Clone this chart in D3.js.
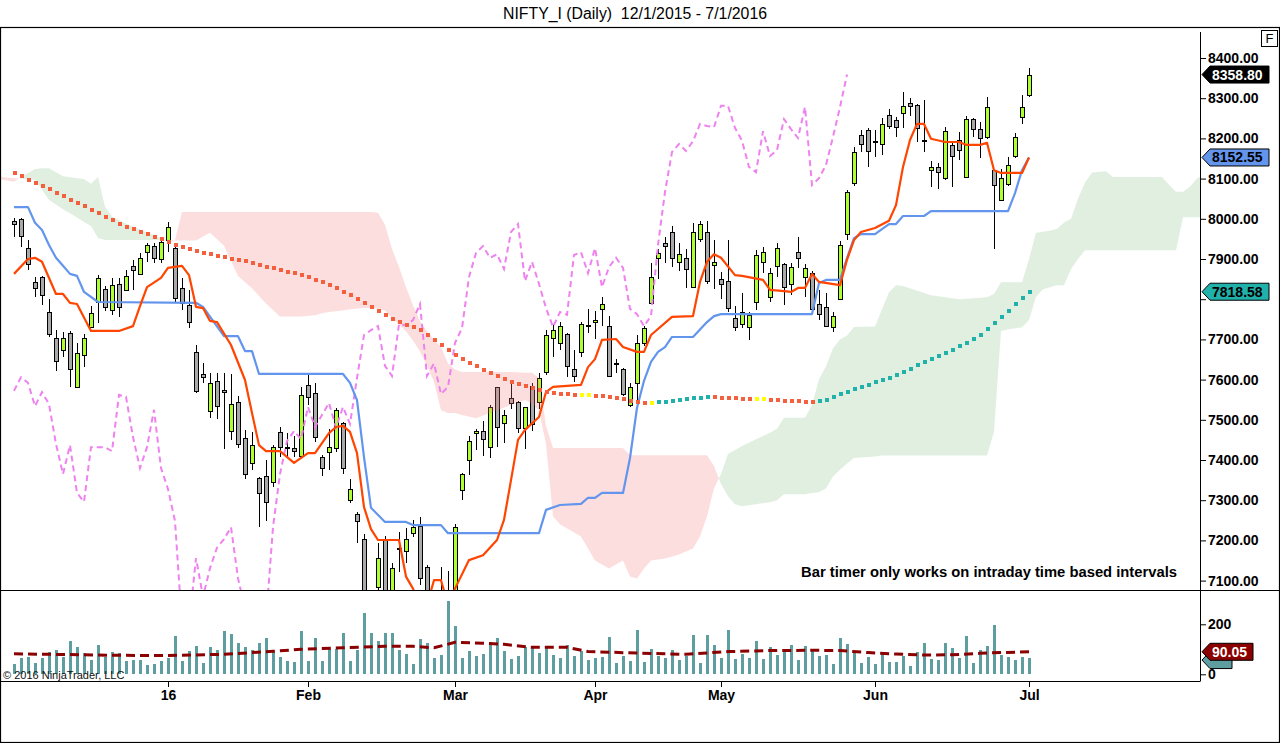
<!DOCTYPE html>
<html>
<head>
<meta charset="utf-8">
<script src="https://d3js.org/d3.v7.min.js"></script>
<title>NIFTY_I (Daily)</title>
<style>
  body { margin: 0; background: #fff; }
  svg { display: block; font-family: "Liberation Sans", Arial, sans-serif; }
  .ax text { font-size: 14px; font-weight: bold; fill: #000; }
  .ax line { stroke: #000; }
</style>
</head>
<body>
<script>
// ---- data (bar index 0 = 1 Dec 2015, 145 = 1 Jul 2016) ----
const opens = [7995,7999,7927,7843,7855,7768,7703,7674,7716,7582, 7661,7731,7793,7825,7773,7838,7823,7883,7863,7917,
  7932,7900,7947,7927,7828,7786,7669,7614,7522,7597, 7574,7472,7544,7455,7393,7355,7360,7345,7470,7433,
  7430,7410,7587,7567,7408,7420,7430,7492,7300,7265, 7203,7000,7084,7201,7050,7180,7174,7218,7236,7134,
  7040,7000,7040,7020,7325,7400,7467,7472,7432,7582, 7492,7554,7544,7480,7584,7544,7619,7703,7691,7713,
  7626,7669,7733,7743,7776,7733,7642,7626,7537,7592, 7691,7791,7903,7940,7967,7893,7903,7830,7950,7967,
  7885,7850,7845,7753,7738,7731,7793,7893,7805,7883, 7888,7838,7917,7855,7865,7788,7781,7731,7801,7962,
  8089,8208,8221,8194,8186,8258,8246,8263,8288,8283, 8196,8121,8129,8101,8184,8196,8104,8248,8223,8203,
  8121,8047,8087,8156,8253,8308]
const highs = [8002,8002,7947,7855,7858,7800,7723,7718,7720,7691, 7713,7783,7860,7833,7853,7853,7873,7898,7915,7940,
  7940,7947,7992,7935,7853,7823,7686,7641,7617,7617, 7617,7614,7559,7475,7470,7358,7400,7437,7482,7467,
  7460,7582,7612,7592,7412,7477,7530,7495,7353,7270, 7215,7050,7194,7210,7145,7221,7230,7250,7258,7140,
  7060,7135,7125,7240,7368,7460,7477,7497,7537,7582, 7524,7592,7547,7532,7592,7617,7723,7736,7743,7716,
  7674,7743,7776,7771,7806,7758,7651,7629,7592,7711, 7733,7890,7925,7955,7982,7940,7925,7990,7995,7995,
  7947,7868,7947,7783,7816,7768,7923,7930,7878,7940, 7890,7890,7955,7888,7870,7823,7816,7768,7945,8072,
  8179,8221,8226,8221,8251,8273,8253,8315,8300,8286, 8296,8144,8139,8228,8191,8216,8256,8251,8241,8303,
  8121,8124,8154,8214,8308,8375]
const lows = [7955,7931,7873,7805,7786,7706,7621,7656,7582,7580, 7631,7729,7741,7771,7761,7756,7820,7823,7860,7893,
  7890,7890,7917,7790,7773,7728,7567,7592,7504,7502, 7427,7450,7430,7353,7375,7233,7248,7333,7407,7407,
  7407,7405,7537,7445,7360,7375,7420,7365,7293,7194, 6960,6940,7040,7030,7030,7121,7145,7208,7090,7000,
  6950,6960,6828,7010,7300,7362,7425,7410,7405,7432, 7443,7527,7467,7427,7472,7527,7612,7656,7674,7606,
  7594,7656,7716,7701,7733,7606,7617,7559,7532,7532, 7683,7788,7850,7890,7880,7870,7828,7828,7942,7838,
  7825,7800,7768,7721,7728,7699,7773,7865,7793,7855, 7786,7810,7878,7806,7768,7748,7731,7718,7798,7947,
  8082,8166,8129,8154,8159,8223,8203,8226,8256,8191, 8166,8079,8074,8097,8079,8146,8102,8203,8151,8198,
  7925,8044,8082,8151,8236,8303]
const closes = [7987,7956,7887,7828,7810,7713,7646,7703,7626,7666, 7703,7766,7853,7781,7835,7781,7858,7873,7903,7935,
  7903,7942,7980,7803,7790,7743,7572,7606,7592,7534, 7569,7539,7440,7365,7437,7318,7296,7432,7432,7432,
  7422,7562,7557,7457,7380,7432,7525,7380,7328,7248, 6990,6990,7156,7060,7131,7182,7203,7233,7106,7030,
  6990,7045,7000,7233,7365,7447,7472,7452,7532,7482, 7512,7542,7480,7532,7490,7604,7711,7723,7733,7634,
  7609,7738,7735,7748,7788,7609,7640,7564,7582,7691, 7728,7855,7915,7932,7903,7912,7875,7967,7987,7845,
  7893,7838,7778,7731,7768,7761,7910,7917,7865,7927, 7830,7880,7903,7878,7776,7763,7733,7758,7935,8067,
  8166,8186,8169,8193,8236,8231,8228,8281,8281,8226, 8194,8129,8116,8218,8156,8171,8248,8223,8201,8278,
  8084,8101,8134,8204,8278,8358.8]
const volumes = [41,67,71,47,67,91,97,71,133,111, 84,57,117,71,88,87,55,57,57,37,
  41,53,67,153,53,93,113,47,109,97, 173,163,127,109,97,127,145,91,71,53,
  51,173,53,145,53,100,100,165,53,97, 245,165,133,165,165,97,81,41,141,127,
  65,77,293,193,65,93,73,81,129,145, 95,63,75,108,108,87,108,79,67,119,
  75,95,59,67,71,151,47,75,55,179, 51,103,75,67,99,59,75,159,47,159,
  119,67,179,63,83,67,135,63,110,78, 101,118,58,113,93,73,77,41,144,121,
  84,47,69,41,89,49,49,73,33,89, 125,61,57,125,104,65,153,47,97,113,
  197,77,69,57,69,65]
// slow moving average drawn as square dots
const slowMA = [8114,8106,8097,8090,8082,8074,8065,8056,8047,8039, 8031,8022,8014,8005,7997,7988,7980,7974,7968,7961,
  7955,7949,7943,7936,7930,7925,7921,7916,7912,7908, 7905,7901,7898,7894,7890,7886,7881,7877,7873,7868,
  7864,7859,7855,7848,7842,7835,7828,7819,7810,7800, 7791,7781,7771,7761,7751,7744,7737,7730,7723,7711,
  7698,7686,7674,7662,7651,7642,7633,7624,7616,7608, 7601,7595,7589,7584,7579,7574,7569,7567,7565,7563,
  7562,7562,7562,7560,7558,7556,7554,7551,7548,7545, 7543,7543,7544,7545,7547,7549,7551,7553,7555,7557,
  7556,7555,7554,7553,7552,7551,7551,7551,7550,7549, 7548,7547,7546,7545,7544,7546,7550,7556,7563,7570,
  7577,7582,7587,7593,7599,7605,7611,7619,7627,7636, 7644,7651,7659,7666,7674,7683,7692,7702,7711,7725,
  7740,7755,7771,7787,7803,7818.58]
// Tenkan / Kijun vertices [bar, value]
const tenkan = [[0,7863],[2,7900],[3,7903],[4,7893],[6,7813],[7,7813],[8,7791],[9,7788],[11,7721],[15,7721],[17,7733],
  [18,7783],[19,7830],[21,7853],[22,7878],[24,7883],[25,7860],[26,7781],[27,7778],[28,7746],[29,7743],[31,7686],
  [33,7599],[34,7517],[35,7437],[36,7422],[38,7422],[40,7393],[42,7417],[43,7417],[45,7467],[46,7482],[47,7485],
  [48,7470],[49,7417],[50,7283],[51,7228],[52,7201],[55,7201],[56,7110],[57,7080],[58,7040],[59,7040],[60,7101],
  [61,7101],[62,7040],[63,7080],[65,7151],[67,7163],[69,7201],[70,7251],[71,7350],[72,7450],[73,7475],[75,7507],
  [76,7569],[77,7582],[81,7587],[82,7631],[83,7651],[84,7699],[86,7701],[87,7681],[89,7669],[90,7669],[91,7711],
  [94,7756],[97,7758],[98,7843],[99,7893],[100,7912],[101,7903],[103,7860],[104,7858],[107,7848],[108,7823],
  [110,7820],[111,7818],[112,7828],[113,7828],[114,7863],[115,7843],[118,7835],[119,7898],[120,7947],[121,7967],
  [123,7977],[125,7995],[126,8034],[127,8129],[128,8196],[129,8236],[130,8236],[131,8199],[133,8191],[135,8191],
  [136,8184],[138,8184],[139,8189],[140,8121],[141,8114],[144,8114],[145,8152.55]]
const kijun = [[0,8029],[2,8029],[3,7990],[4,7972],[5,7935],[6,7903],[7,7883],[8,7863],[9,7858],[10,7818],[12,7793],
  [26,7791],[27,7781],[30,7708],[32,7708],[33,7671],[34,7671],[35,7614],[47,7614],[48,7592],[49,7549],[50,7407],
  [51,7281],[53,7246],[56,7246],[57,7238],[61,7238],[62,7218],[75,7218],[76,7276],[78,7288],[81,7291],[82,7306],
  [83,7306],[84,7318],[87,7318],[88,7405],[89,7530],[90,7597],[91,7644],[92,7669],[93,7681],[94,7706],[97,7706],
  [99,7743],[100,7758],[101,7763],[114,7763],[115,7840],[116,7848],[118,7848],[119,7902],[120,7952],[121,7962],
  [123,7962],[125,7987],[126,7987],[127,8007],[130,8007],[131,8019],[142,8019],[143,8064],[144,8121],[145,8152.55]]
// cloud: bar position, Senkou span A, Senkou span B
const cloudBars = [-2,0,1,2,3,4,5,7,9,10,11,12,13,14,17,21,22,23,24,26,28,30,32,34,36,38,41,43,44,45,47,48,50,51,52,53,54,
  55,56,57,58,59,60,61,62,63,64,66,68,71,73,74,75,76,77,78,81,83,85,87,88,89,90,91,93,95,97,98,99,100,101,102,103,104,
  108,109,110,113,114,115,116,117,118,119,120,123,124,125,126,127,131,135,139,140,141,142,144,145,146,147,148,149,150,
  151,152,153,154,156,157,164,165,166,167,168,169,170]
const spanA = [8098,8092,8104,8114,8124,8126,8126,8106,8101,8099,8087,8104,8030,8005,7980,7952,7946,7946,7946,7946,7965,
  7933,7858,7827,7789,7757,7757,7760,7765,7768,7772,7775,7778,7778,7776,7772,7753,7737,7720,7697,7670,7635,7594,7524,
  7517,7517,7512,7504,7517,7537,7549,7540,7524,7440,7260,7240,7210,7150,7130,7150,7110,7105,7130,7150,7155,7165,7180,
  7210,7260,7330,7365,7415,7425,7435,7468,7478,7505,7505,7537,7600,7633,7678,7700,7710,7731,7732,7775,7817,7835,7833,
  7810,7800,7805,7813,7842,7842,7842,7900,7965,7968,7970,7975,7991,8000,8050,8090,8115,8118,8104,8104,8085,8067,8067,
  8080,8100,8110]
const spanB = [8104,8101,8100,8098,8097,8072,8047,8024,8003,7992,7982,7952,7947,7947,7947,7947,7947,7947,8017,8017,8017,
  8017,8017,8017,8017,8017,8017,8017,8017,8017,8017,8017,8017,8017,8015,7985,7925,7880,7830,7785,7745,7720,7700,7681,
  7640,7625,7619,7619,7619,7619,7617,7617,7604,7485,7430,7430,7430,7430,7430,7430,7412,7412,7412,7412,7412,7412,7412,
  7412,7412,7385,7340,7310,7290,7285,7295,7300,7315,7315,7318,7320,7330,7359,7376,7391,7405,7409,7411,7411,7411,7411,
  7411,7411,7411,7470,7720,7725,7730,7748,7806,7825,7830,7835,7835,7875,7900,7922,7922,7922,7922,7922,7922,7922,8004,
  8004,8004,8004]
// volume moving average vertices [bar, value]
const volMA = [[0,82],[15,76],[22,75],[30,80],[37,92],[41,100],[47,106],[53,112],[57,112],[60,106],[63,128],[67,124],
  [70,120],[74,108],[79,108],[82,91],[89,85],[96,80],[102,91],[108,95],[114,96],[118,95],[122,87],[126,81],[130,77],
  [134,78],[138,84],[141,87],[145,90.05]]
const priceTicks = [7100,7200,7300,7400,7500,7600,7700,7800,7900,8000,8100,8200,8300,8400]
const volTicks = [0, 200]
const dateTickBars = [22, 42, 63, 83, 101, 123, 145]
const dateTickLabels = ['16', 'Feb', 'Mar', 'Apr', 'May', 'Jun', 'Jul']

/* canvas setup */
const width = 1280, height = 743
const svg = d3.select('body').append('svg').attr('width', width).attr('height', height)

const x = d3.scaleLinear().domain([0, 145]).range([14, 1029])
const y = d3.scaleLinear().domain([7100, 8400]).range([580.6, 58])
const yv = d3.scaleLinear().domain([0, 200]).range([674.3, 624.3])
const snap = v => Math.round(v) + 0.5

svg.append('text')
  .attr('x', 635).attr('y', 19).attr('text-anchor', 'middle')
  .attr('font-size', 16).attr('textLength', 264).attr('lengthAdjust', 'spacingAndGlyphs')
  .style('white-space', 'pre')
  .text('NIFTY_I (Daily)  12/1/2015 - 7/1/2016')

svg.append('rect').attr('x', 0.5).attr('y', 27.5).attr('width', 1279).attr('height', 715)
  .attr('fill', 'none').attr('stroke', '#000').attr('stroke-width', 1.2)

const defs = svg.append('defs')
defs.append('clipPath').attr('id', 'pc').append('rect').attr('x', 1).attr('y', 28).attr('width', 1199).attr('height', 562)
defs.append('clipPath').attr('id', 'vc').append('rect').attr('x', 1).attr('y', 591).attr('width', 1199).attr('height', 90)

const price = svg.append('g').attr('clip-path', 'url(#pc)')

/* candles */
const idx = d3.range(opens.length)
const candles = price.append('g')
candles.selectAll('line').data(idx).join('line')
  .attr('x1', i => x(i) + 0.5).attr('x2', i => x(i) + 0.5)
  .attr('y1', i => Math.round(y(highs[i]))).attr('y2', i => Math.round(y(lows[i])))
  .attr('stroke', '#000').attr('stroke-width', 1)
candles.selectAll('rect').data(idx).join('rect')
  .attr('x', i => x(i) - 1.5).attr('width', 4)
  .attr('y', i => snap(y(Math.max(opens[i], closes[i]))))
  .attr('height', i => Math.max(1, Math.round(Math.abs(y(opens[i]) - y(closes[i])))))
  .attr('fill', i => closes[i] >= opens[i] ? '#adff2f' : '#a9a9a9')
  .attr('stroke', '#000').attr('stroke-width', 1)

/* ichimoku cloud, drawn over the candles with transparency */
const pt = (b, v) => x(b).toFixed(2) + ',' + y(v).toFixed(2)
let pinkD = '', greenD = ''
for (let k = 0; k < cloudBars.length - 1; k++) {
  const b0 = cloudBars[k], b1 = cloudBars[k + 1]
  const a0 = spanA[k], a1 = spanA[k + 1], s0 = spanB[k], s1 = spanB[k + 1]
  const d0 = a0 - s0, d1 = a1 - s1
  if (d0 * d1 >= 0) {
    const seg = 'M' + [pt(b0, a0), pt(b1, a1), pt(b1, s1), pt(b0, s0)].join('L') + 'Z'
    if (d0 + d1 >= 0) greenD += seg; else pinkD += seg
  } else {
    const t = d0 / (d0 - d1)
    const bc = b0 + t * (b1 - b0), vc = a0 + t * (a1 - a0)
    const s1st = 'M' + [pt(b0, a0), pt(bc, vc), pt(b0, s0)].join('L') + 'Z'
    const s2nd = 'M' + [pt(bc, vc), pt(b1, a1), pt(b1, s1)].join('L') + 'Z'
    if (d0 > 0) { greenD += s1st; pinkD += s2nd } else { pinkD += s1st; greenD += s2nd }
  }
}
price.append('path').attr('d', pinkD).attr('fill', 'rgb(245,125,125)').attr('opacity', 0.25)
price.append('path').attr('d', greenD).attr('fill', 'rgb(135,190,135)').attr('opacity', 0.25)

/* lagging span: closes shifted back 26 bars */
const lineXY = d3.line().x(d => x(d[0])).y(d => y(d[1]))
const chikou = closes.map((c, i) => [i - 26, c]).filter(d => d[0] >= 0)
price.append('path').attr('d', lineXY(chikou)).attr('fill', 'none')
  .attr('stroke', '#ee82ee').attr('stroke-width', 2).attr('stroke-dasharray', '6,4')

price.append('path').attr('d', lineXY(kijun)).attr('fill', 'none')
  .attr('stroke', '#6495ed').attr('stroke-width', 2.2).attr('stroke-linejoin', 'round')
price.append('path').attr('d', lineXY(tenkan)).attr('fill', 'none')
  .attr('stroke', '#ff4500').attr('stroke-width', 2.2).attr('stroke-linejoin', 'round')

/* slow average as coloured square dots */
price.append('g').selectAll('rect').data(slowMA).join('rect')
  .attr('x', (d, i) => x(i) - 1).attr('y', d => Math.round(y(d)) - 2)
  .attr('width', 4).attr('height', 4)
  .attr('fill', (d, i) => {
    const diff = i === 0 ? -1 : d - slowMA[i - 1]
    return diff > 0 ? '#20b2aa' : diff < 0 ? '#f4603e' : '#ffff00'
  })

/* volume panel */
const vol = svg.append('g').attr('clip-path', 'url(#vc)')
vol.selectAll('rect').data(volumes).join('rect')
  .attr('x', (d, i) => x(i) - 1).attr('width', 3)
  .attr('y', d => Math.round(yv(d))).attr('height', d => Math.round(yv(0)) - Math.round(yv(d)))
  .attr('fill', '#5f9ea0')
vol.append('path').attr('d', d3.line().x(d => x(d[0])).y(d => yv(d[1]))(volMA))
  .attr('fill', 'none').attr('stroke', '#8b0000').attr('stroke-width', 3).attr('stroke-dasharray', '9,5')

svg.append('text').attr('x', 3).attr('y', 679).attr('font-size', 11).attr('fill', '#111')
  .text('\u00a9 2016 NinjaTrader, LLC')

/* panel borders */
svg.append('line').attr('x1', 0).attr('x2', 1280).attr('y1', 590.5).attr('y2', 590.5).attr('stroke', '#000').attr('stroke-width', 1.2)
svg.append('line').attr('x1', 0).attr('x2', 1200).attr('y1', 681.5).attr('y2', 681.5).attr('stroke', '#000')
svg.append('line').attr('x1', 1200.5).attr('x2', 1200.5).attr('y1', 32).attr('y2', 681.5).attr('stroke', '#000')

/* axes */
const lastMA = slowMA[slowMA.length - 1]
const pAxis = svg.append('g').attr('class', 'ax').attr('transform', 'translate(1200,0)')
  .call(d3.axisRight(y).tickValues(priceTicks).tickFormat(d3.format('.2f')).tickSize(6).tickPadding(2))
pAxis.select('.domain').remove()
// the 7800 label sits under the last-value flag of the slow average
pAxis.selectAll('.tick').filter(d => Math.abs(y(d) - y(lastMA)) < 14).select('text').remove()
const vAxis = svg.append('g').attr('class', 'ax').attr('transform', 'translate(1200,0)')
  .call(d3.axisRight(yv).tickValues(volTicks).tickFormat(d3.format('d')).tickSize(6).tickPadding(2))
vAxis.select('.domain').remove()
const tAxis = svg.append('g').attr('class', 'ax').attr('transform', 'translate(0,681)')
  .call(d3.axisBottom(x).tickValues(dateTickBars).tickFormat((d, i) => dateTickLabels[i]).tickSize(6).tickPadding(3))
tAxis.select('.domain').remove()

/* last-value flags */
const flag = (cy, txt, bg, fg, right) => {
  const g = svg.append('g')
  g.append('path')
    .attr('d', `M1202,${cy}L1210,${cy - 8.5}L${right},${cy - 8.5}L${right},${cy + 8.5}L1210,${cy + 8.5}Z`)
    .attr('fill', bg).attr('stroke', '#000').attr('stroke-width', 1)
  if (txt) g.append('text').attr('x', 1212).attr('y', cy + 5).attr('font-size', 14).attr('font-weight', 'bold')
    .attr('fill', fg).text(txt)
}
flag(y(closes[closes.length - 1]), d3.format('.2f')(closes[closes.length - 1]), '#000', '#fff', 1269)
flag(y(kijun[kijun.length - 1][1]), d3.format('.2f')(kijun[kijun.length - 1][1]), '#6495ed', '#000', 1269)
flag(y(lastMA), d3.format('.2f')(lastMA), '#20b2aa', '#000', 1269)
flag(yv(volumes[volumes.length - 1]) + 2, '', '#5f9ea0', '#000', 1232)
flag(yv(volMA[volMA.length - 1][1]), d3.format('.2f')(volMA[volMA.length - 1][1]), '#8b0000', '#fff', 1253)

/* F button and notice */
svg.append('rect').attr('x', 1261.5).attr('y', 30.5).attr('width', 16).attr('height', 16)
  .attr('fill', '#fff').attr('stroke', '#000')
svg.append('text').attr('x', 1269.5).attr('y', 43).attr('text-anchor', 'middle').attr('font-size', 13).text('F')
svg.append('text').attr('x', 1177).attr('y', 577).attr('text-anchor', 'end')
  .attr('font-size', 14).attr('font-weight', 'bold').attr('textLength', 376).attr('lengthAdjust', 'spacingAndGlyphs')
  .text('Bar timer only works on intraday time based intervals')
</script>
</body>
</html>
